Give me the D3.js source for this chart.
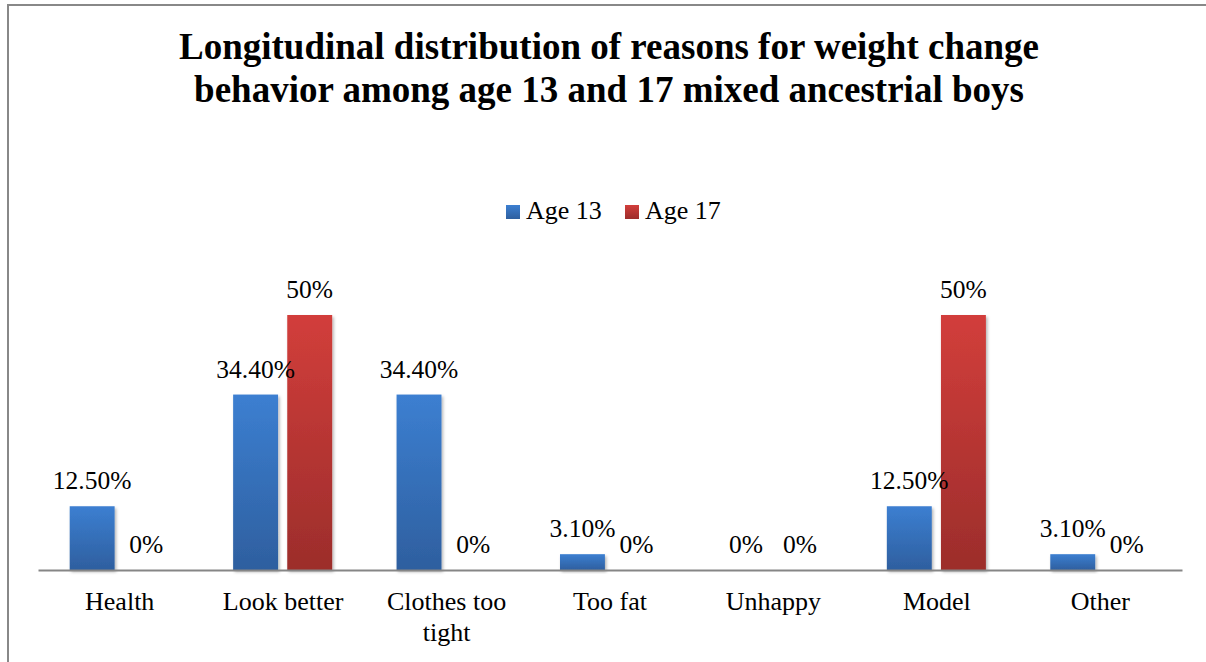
<!DOCTYPE html>
<html>
<head>
<meta charset="utf-8">
<script src="https://cdn.jsdelivr.net/npm/d3@7"></script>
<style>
  body { margin: 0; background: #fff; }
  svg text { font-family: 'Liberation Serif', Tinos, 'Times New Roman', 'DejaVu Serif', serif; fill: #000; }
</style>
</head>
<body>
<div id="main"></div>
<script>
// chart data //
const categories = ['Health', 'Look better', 'Clothes too tight', 'Too fat', 'Unhappy', 'Model', 'Other'];
const series = ['Age 13', 'Age 17'];
const age13 = [12.5, 34.4, 34.4, 3.1, 0, 12.5, 3.1];
const age17 = [0, 50, 0, 0, 0, 50, 0];
const labels13 = ['12.50%', '34.40%', '34.40%', '3.10%', '0%', '12.50%', '3.10%'];
const labels17 = ['0%', '50%', '0%', '0%', '0%', '50%', '0%'];
const titleLines = ['Longitudinal distribution of reasons for weight change',
                    'behavior among age 13 and 17 mixed ancestrial boys'];

const w = 1206, h = 662;
const base = 570;   // baseline of the plot
const serif = "'Liberation Serif', Tinos, 'Times New Roman', 'DejaVu Serif', serif";

const svg = d3.select('#main').append('svg')
    .attr('width', w)
    .attr('height', h)
    .style('font-family', serif);

const defs = svg.append('defs');

// gradients for bars //
const grads = [
    { id: 'gBlue', top: '#3c7fd1', bottom: '#2e5f9f' },
    { id: 'gRed', top: '#d23e3b', bottom: '#9c2d2b' }
];
grads.forEach(g => {
    const lg = defs.append('linearGradient')
        .attr('id', g.id)
        .attr('x1', 0).attr('y1', 0).attr('x2', 0).attr('y2', 1);
    lg.append('stop').attr('offset', '0%').attr('stop-color', g.top);
    lg.append('stop').attr('offset', '100%').attr('stop-color', g.bottom);
});

defs.append('filter')
    .attr('id', 'shadow')
    .attr('x', '-20%').attr('y', '-20%').attr('width', '140%').attr('height', '140%')
    .append('feDropShadow')
    .attr('dx', 1.5).attr('dy', 2)
    .attr('stdDeviation', 1.5)
    .attr('flood-color', '#000')
    .attr('flood-opacity', 0.3);

// outer frame (only top and left show in the picture)
svg.append('path')
    .attr('d', `M8,${h} L8,5 L${w},5`)
    .attr('fill', 'none')
    .attr('stroke', '#888')
    .attr('stroke-width', 2);

// title //
svg.append('text')
    .attr('x', 609)
    .attr('y', 59)
    .attr('text-anchor', 'middle')
    .style('font-family', serif)
    .style('font-size', '37px')
    .style('font-weight', 'bold')
    .selectAll('tspan')
    .data(titleLines)
    .enter()
    .append('tspan')
    .attr('x', 609)
    .attr('dy', (d, i) => i === 0 ? 0 : 43)
    .text(d => d);

// scales //
const x = d3.scaleBand()
    .domain(categories)
    .range([38, 1182]);

const bw = x.bandwidth();
const xs = d3.scaleBand()
    .domain(series)
    .range([-0.306 * bw, 0.3 * bw])
    .paddingInner(0.17);

const y = d3.scaleLinear()
    .domain([0, 50])
    .range([base, 315]);

const color = d3.scaleOrdinal()
    .domain(series)
    .range(['url(#gBlue)', 'url(#gRed)']);

// legend //
const legendX = { 'Age 13': 506, 'Age 17': 625 };
const legend = svg.append('g');
series.forEach(s => {
    legend.append('rect')
        .attr('x', legendX[s])
        .attr('y', 205)
        .attr('width', 14)
        .attr('height', 14)
        .attr('fill', color(s));
    legend.append('text')
        .attr('x', legendX[s] + 20)
        .attr('y', 219)
        .style('font-family', serif)
        .style('font-size', '26px')
        .text(s);
});

// bars //
const rows = [];
categories.forEach((c, i) => {
    rows.push({ cat: c, s: 'Age 13', v: age13[i], label: labels13[i] });
    rows.push({ cat: c, s: 'Age 17', v: age17[i], label: labels17[i] });
});

svg.append('g')
    .selectAll('rect')
    .data(rows.filter(d => d.v > 0))
    .enter()
    .append('rect')
    .attr('x', d => x(d.cat) + bw / 2 + xs(d.s))
    .attr('y', d => y(d.v))
    .attr('width', xs.bandwidth())
    .attr('height', d => base - y(d.v))
    .attr('fill', d => color(d.s))
    .attr('filter', 'url(#shadow)');

// value labels //
svg.append('g')
    .selectAll('text')
    .data(rows)
    .enter()
    .append('text')
    .attr('x', d => x(d.cat) + bw / 2 + xs(d.s) + xs.bandwidth() / 2)
    .attr('y', d => y(d.v) - 17)
    .attr('text-anchor', 'middle')
    .style('font-family', serif)
    .style('font-size', '25.5px')
    .text(d => d.label);

// x axis //
const xAxis = d3.axisBottom(x).tickSize(0).tickPadding(0);
const axG = svg.append('g')
    .attr('transform', `translate(0,${base})`)
    .call(xAxis)
    .attr('font-family', null)
    .attr('font-size', null);
axG.select('.domain')
    .attr('stroke', '#868686')
    .attr('stroke-width', 2);
axG.selectAll('.tick text')
    .attr('fill', null)
    .style('font-family', serif)
    .style('font-size', '26px')
    .attr('y', 40)
    .attr('dy', null)
    .call(wrap, 150);

// wrap long category labels //
function wrap(sel, width) {
    sel.each(function() {
        const t = d3.select(this);
        const words = t.text().split(' ');
        t.text(null);
        let line = [];
        let tspan = t.append('tspan').attr('x', 0).attr('dy', 0);
        words.forEach(word => {
            line.push(word);
            tspan.text(line.join(' '));
            if (tspan.node().getComputedTextLength() > width && line.length > 1) {
                line.pop();
                tspan.text(line.join(' '));
                line = [word];
                tspan = t.append('tspan').attr('x', 0).attr('dy', 31).text(word);
            }
        });
    });
}
</script>
</body>
</html>
